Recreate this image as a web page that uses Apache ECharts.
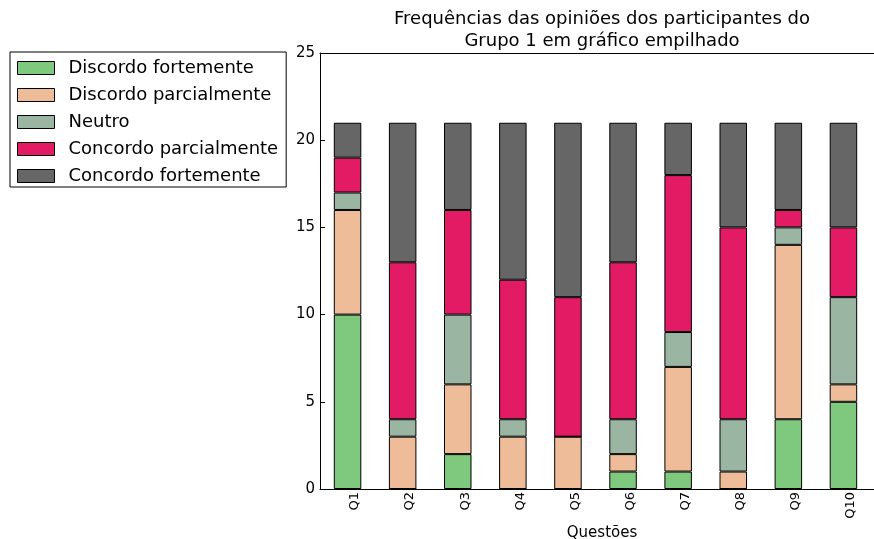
<!DOCTYPE html>
<html>
<head>
<meta charset="utf-8">
<script src="https://cdn.jsdelivr.net/npm/echarts@6/dist/echarts.min.js"></script>
<style>
  html, body { margin: 0; padding: 0; background: #fff; }
  #main { width: 874px; height: 539px; }
</style>
</head>
<body>
<div id="main"></div>
<script>
// dados
var questoes = ["Q1", "Q2", "Q3", "Q4", "Q5", "Q6", "Q7", "Q8", "Q9", "Q10"];
var discordoFortemente = [10, 0, 2, 0, 0, 1, 1, 0, 4, 5];
var discordoParcialmente = [6, 3, 4, 3, 3, 1, 6, 1, 10, 1];
var neutro = [1, 1, 4, 1, 0, 2, 2, 3, 1, 5];
var concordoParcialmente = [2, 9, 6, 8, 8, 9, 9, 11, 1, 4];
var concordoFortemente = [2, 8, 5, 9, 10, 8, 3, 6, 5, 6];
var yTicks = [0, 5, 10, 15, 20, 25];

var nomes = ["Discordo fortemente", "Discordo parcialmente", "Neutro", "Concordo parcialmente", "Concordo fortemente"];
var cores = ["#7fc97f", "#eebc98", "#9ab6a3", "#e31a64", "#666666"];
var valores = [discordoFortemente, discordoParcialmente, neutro, concordoParcialmente, concordoFortemente];

var chart = echarts.init(document.getElementById("main"));

var series = valores.map(function (d, i) {
  return {
    name: nomes[i],
    type: "bar",
    stack: "total",
    xAxisIndex: 0,
    yAxisIndex: 0,
    data: d,
    barWidth: 27.5,
    itemStyle: { color: cores[i], borderColor: "#000", borderWidth: 1 },
    emphasis: { disabled: true }
  };
});

var option = {
  animation: false,
  textStyle: { fontFamily: "DejaVu Sans", color: "#000" },
  graphic: [{
    type: "text",
    x: 602,
    y: 8,
    style: {
      text: "Frequências das opiniões dos participantes do\nGrupo 1 em gráfico empilhado",
      align: "center",
      fontSize: 18,
      lineHeight: 22,
      fontFamily: "DejaVu Sans",
      fill: "#000"
    }
  }],
  legend: {
    orient: "vertical",
    left: 10,
    top: 52,
    data: nomes,
    icon: "rect",
    itemWidth: 37,
    itemHeight: 13,
    itemGap: 9,
    padding: [7, 8, 2, 7],
    borderColor: "#000",
    borderWidth: 1,
    backgroundColor: "#fff",
    itemStyle: { borderColor: "#000", borderWidth: 1 },
    textStyle: { fontSize: 18, color: "#000", padding: [0, 0, 0, 9] }
  },
  grid: [
    { left: 320, width: 551, top: 53, bottom: 50, outerBoundsMode: "none" },
    { left: 320, right: -10, top: 53, bottom: 50, outerBoundsMode: "none" },
    { left: 327.45, width: 551, top: 53, bottom: 50, outerBoundsMode: "none" }
  ],
  xAxis: [
    { type: "category", gridIndex: 0, data: questoes, show: false },
    {
      type: "value", gridIndex: 1, min: 0, max: 1, position: "bottom", z: 10,
      axisLine: { lineStyle: { color: "#000", width: 1 } },
      axisTick: { show: false }, axisLabel: { show: false }, splitLine: { show: false },
      name: "Questões", nameLocation: "middle", nameGap: 37,
      nameTextStyle: { fontSize: 15, color: "#000" }
    },
    {
      type: "value", gridIndex: 1, min: 0, max: 1, position: "top", z: 10,
      axisLine: { lineStyle: { color: "#000", width: 1 } },
      axisTick: { show: false }, axisLabel: { show: false }, splitLine: { show: false }
    },
    {
      type: "category", gridIndex: 2, data: questoes, position: "bottom", z: 10,
      axisLine: { show: false },
      axisTick: { alignWithLabel: true, inside: true, length: 4, lineStyle: { color: "#000" } },
      axisLabel: { rotate: 90, fontSize: 13, margin: 3, color: "#000" },
      splitLine: { show: false }
    },
    {
      type: "category", gridIndex: 2, data: questoes, position: "top", z: 10,
      axisLine: { show: false },
      axisTick: { alignWithLabel: true, inside: true, length: 4, lineStyle: { color: "#000" } },
      axisLabel: { show: false }, splitLine: { show: false }
    }
  ],
  yAxis: [
    { type: "value", gridIndex: 0, min: 0, max: 25, interval: 5, show: false },
    {
      type: "value", gridIndex: 1, min: yTicks[0], max: yTicks[yTicks.length - 1], interval: 5, z: 10,
      axisLine: { show: true, lineStyle: { color: "#000", width: 1 } },
      axisTick: { show: true, inside: true, length: 5, lineStyle: { color: "#000" } },
      axisLabel: { fontSize: 15, color: "#000", margin: 5 },
      splitLine: { show: false }
    },
    { type: "value", gridIndex: 2, min: 0, max: 25, show: false }
  ],
  series: series
};

chart.setOption(option);
</script>
</body>
</html>
